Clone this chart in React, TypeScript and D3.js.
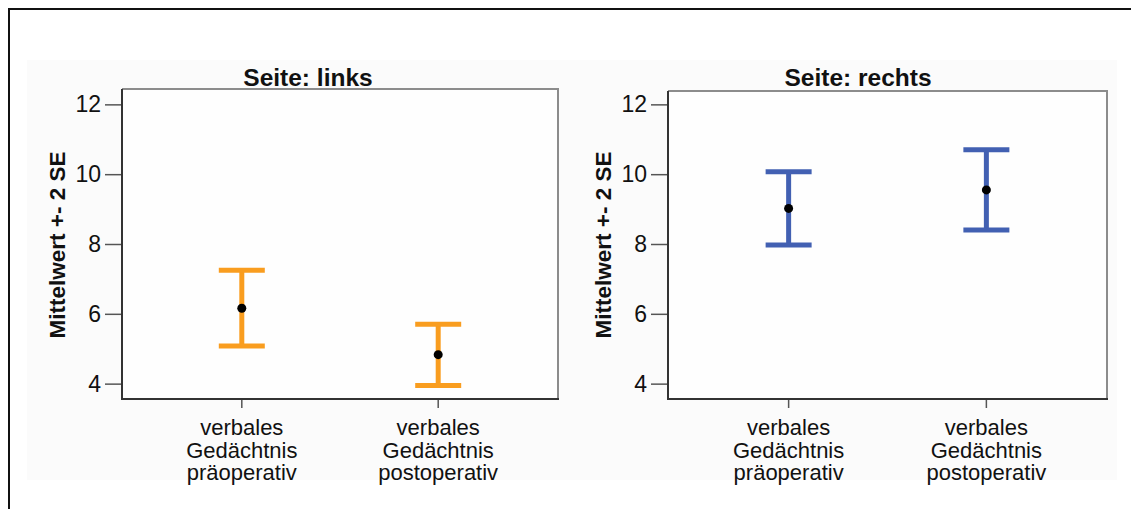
import React, { useEffect, useRef } from 'react';
import * as d3 from 'd3';

// Categories (x axis), split into lines as in the chart
const categories = ['prae', 'post'];
const categoryLines = [
  ['verbales', 'Gedächtnis', 'präoperativ'],
  ['verbales', 'Gedächtnis', 'postoperativ'],
];
const yTicks = [4, 6, 8, 10, 12];

// Seite: links
const meanLinks = [6.16, 4.83];
const lowerLinks = [5.08, 3.95];
const upperLinks = [7.25, 5.7];

// Seite: rechts
const meanRechts = [9.02, 9.55];
const lowerRechts = [7.97, 8.4];
const upperRechts = [10.07, 10.7];

const panelTitles = ['Seite: links', 'Seite: rechts'];
const yLabel = 'Mittelwert +- 2 SE';

const FONT = '"Liberation Sans", Arial, sans-serif';

export default function App() {
  const svgRef = useRef<SVGSVGElement | null>(null);

  useEffect(() => {
    const width = 1131;
    const height = 509;
    const svg = d3.select(svgRef.current).attr('width', width).attr('height', height);
    svg.selectAll('*').remove();

    // faint panel background + outer frame
    svg.append('rect').attr('x', 27).attr('y', 60).attr('width', 1090).attr('height', 420).attr('fill', '#fbfbfb');
    svg.append('path').attr('d', `M9,${height + 5}V9H${width + 5}`).attr('fill', 'none').attr('stroke', '#111').attr('stroke-width', 2);

    const panels = [
      { title: panelTitles[0], mean: meanLinks, lo: lowerLinks, hi: upperLinks, color: '#F99D1F',
        x0: 122, x1: 558, top: 89, titleX: 308, labelX: 57 },
      { title: panelTitles[1], mean: meanRechts, lo: lowerRechts, hi: upperRechts, color: '#4260B2',
        x0: 668, x1: 1107, top: 91, titleX: 858, labelX: 603 },
    ];
    const bottom = 399;

    panels.forEach(p => {
      const g = svg.append('g');
      const x = d3.scalePoint<string>().domain(categories).range([p.x0, p.x1]).padding(0.61);
      const y = d3.scaleLinear().domain([3.56, 12.44]).range([bottom, 89]);

      // plot area
      g.append('rect').attr('x', p.x0).attr('y', p.top).attr('width', p.x1 - p.x0).attr('height', bottom - p.top)
        .attr('fill', '#fefefe');
      g.append('path').attr('d', `M${p.x0},${p.top}H${p.x1}V${bottom}`).attr('fill', 'none')
        .attr('stroke', '#8c8c8c').attr('stroke-width', 2);
      g.append('path').attr('d', `M${p.x0},${p.top}V${bottom}H${p.x1 + 1}`).attr('fill', 'none')
        .attr('stroke', '#333').attr('stroke-width', 2);

      // y axis
      const yAxis = g.append('g').attr('transform', `translate(${p.x0 - 1},0)`)
        .call(d3.axisLeft(y).tickValues(yTicks).tickSize(16).tickPadding(4).tickFormat(d3.format('d')));
      yAxis.select('.domain').remove();
      yAxis.selectAll('line').attr('stroke', '#555').attr('stroke-width', 1.5);
      yAxis.selectAll('text').attr('font-family', FONT).attr('font-size', 23).attr('fill', '#111');

      // x axis ticks + labels
      categories.forEach((c, i) => {
        const cx = x(c) as number;
        g.append('line').attr('x1', cx).attr('x2', cx).attr('y1', bottom + 1).attr('y2', bottom + 9)
          .attr('stroke', '#555').attr('stroke-width', 1.5);
        const t = g.append('text').attr('x', cx).attr('y', 435).attr('text-anchor', 'middle')
          .attr('font-family', FONT).attr('font-size', 22).attr('fill', '#111');
        categoryLines[i].forEach((ln, j) => {
          t.append('tspan').attr('x', cx).attr('dy', j === 0 ? 0 : 22.7).text(ln);
        });
      });

      // y label
      g.append('text').attr('transform', `translate(${p.labelX + 8},245) rotate(-90)`).attr('text-anchor', 'middle')
        .attr('font-family', FONT).attr('font-size', 22.5).attr('font-weight', 'bold').attr('fill', '#111')
        .text(yLabel);

      // title
      g.append('text').attr('x', p.titleX).attr('y', 86).attr('text-anchor', 'middle')
        .attr('font-family', FONT).attr('font-size', 24.5).attr('font-weight', 'bold').attr('fill', '#111')
        .text(p.title);

      // error bars
      const capW = 46;
      categories.forEach((c, i) => {
        const cx = x(c) as number;
        g.append('line').attr('x1', cx).attr('x2', cx).attr('y1', y(p.hi[i])).attr('y2', y(p.lo[i]))
          .attr('stroke', p.color).attr('stroke-width', 5);
        [p.hi[i], p.lo[i]].forEach(v => {
          g.append('line').attr('x1', cx - capW / 2).attr('x2', cx + capW / 2).attr('y1', y(v)).attr('y2', y(v))
            .attr('stroke', p.color).attr('stroke-width', 5);
        });
        g.append('circle').attr('cx', cx).attr('cy', y(p.mean[i])).attr('r', 4.5).attr('fill', '#000');
      });
    });
  }, []);

  return (
    <div>
      <style>{'body{margin:0;background:#fff}'}</style>
      <svg ref={svgRef} style={{ display: 'block' }} />
    </div>
  );
}
